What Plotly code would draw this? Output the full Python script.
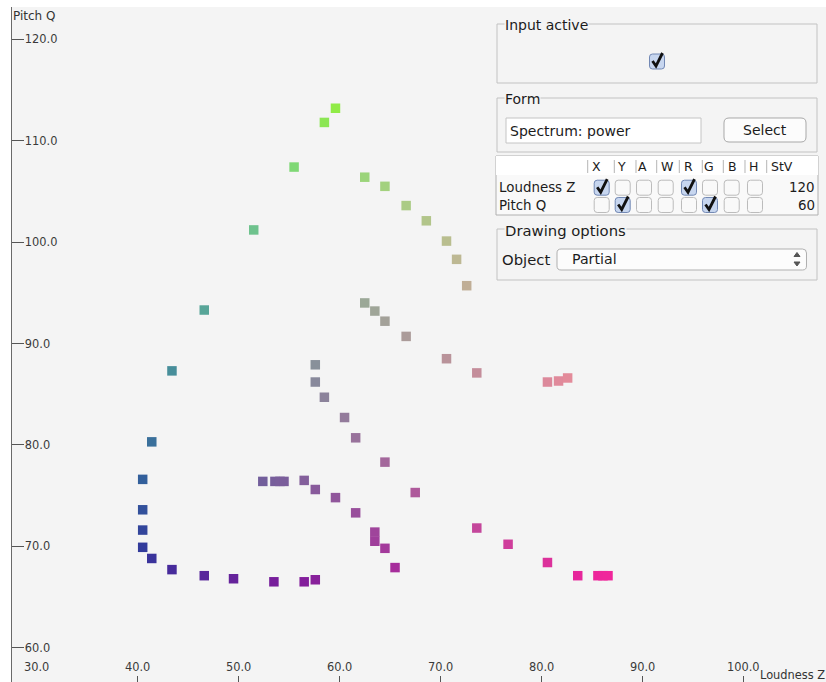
import plotly.graph_objects as go

# ---------------------------------------------------------------------------
# Partials: loudness (Z) against pitch (Q)
# ---------------------------------------------------------------------------
loudness_z = [
    # outer track
    59.6, 58.5, 55.5, 51.5, 46.6, 43.4, 41.4, 40.5, 40.5, 40.5, 40.5, 41.4,
    43.4, 46.6, 49.5, 53.5, 56.5, 57.6,
    # upper right track
    62.5, 64.5, 66.6, 68.6, 70.6, 71.6, 72.6,
    # middle track
    62.5, 63.5, 64.5, 66.6, 70.6, 73.6, 80.6, 81.7, 82.6,
    # long descending track
    57.6, 57.6, 58.5, 60.5, 61.6, 64.5, 67.5, 73.6, 76.7, 80.6, 83.6, 85.6,
    86.1, 86.6,
    # lower inner track
    52.4, 53.6, 54.1, 54.5, 56.5, 57.6, 59.6, 61.6, 63.5, 63.5, 64.5, 65.5,
]
pitch_q = [
    113.2, 111.8, 107.4, 101.2, 93.3, 87.3, 80.3, 76.6, 73.6, 71.6, 69.9, 68.8,
    67.7, 67.1, 66.8, 66.5, 66.5, 66.7,
    106.4, 105.5, 103.6, 102.1, 100.1, 98.3, 95.7,
    94.0, 93.2, 92.2, 90.7, 88.5, 87.1, 86.2, 86.3, 86.6,
    87.9, 86.2, 84.7, 82.7, 80.7, 78.3, 75.3, 71.8, 70.2, 68.4, 67.1, 67.1,
    67.1, 67.1,
    76.4, 76.4, 76.4, 76.4, 76.5, 75.6, 74.8, 73.3, 71.4, 70.5, 69.8, 67.9,
]

x_ticks = [30, 40, 50, 60, 70, 80, 90, 100]
y_ticks = [60, 70, 80, 90, 100, 110, 120]
x_title = "Loudness Z"
y_title = "Pitch Q"

# panel table contents
table_columns = ["X", "Y", "A", "W", "R", "G", "B", "H"]
table_rows = ["Loudness Z", "Pitch Q"]
table_stv = ["120", "60"]
table_checked = [["X", "R"], ["Y", "G"]]

# ---------------------------------------------------------------------------
# Figure geometry (pixels)
# ---------------------------------------------------------------------------
W, H = 826, 682
ML, MT = 12, 7
PW, PH = W - ML, H - MT
BG = "#f4f4f4"
TXT = "#1c1c1c"
FONT = "DejaVu Sans"


def fx(p):
    return (p - ML) / PW


def fy(p):
    return 1 - (p - MT) / PH


def partial_colour(z, q):
    # red follows loudness, green follows pitch
    zn = min(max((z - min(loudness_z)) / (max(loudness_z) - min(loudness_z)), 0), 1)
    qn = min(max((q - min(pitch_q)) / (max(pitch_q) - min(pitch_q)), 0), 1)
    r = 50 + 190 * zn ** 0.8
    g = 30 + 205 * qn ** 0.75
    b = 155 - 85 * qn ** 6
    return f"rgb({r:.0f},{g:.0f},{b:.0f})"


colours = [partial_colour(z, q) for z, q in zip(loudness_z, pitch_q)]

fig = go.Figure(
    go.Scatter(
        x=loudness_z,
        y=pitch_q,
        mode="markers",
        marker=dict(symbol="square", size=9.5, color=colours, line=dict(width=0)),
        hoverinfo="skip",
    )
)

shapes = []
annotations = []


def rect(x0, y0, x1, y1, line="#bdbdbd", fill=None, width=1):
    shapes.append(dict(
        type="rect", xref="paper", yref="paper",
        x0=fx(x0), x1=fx(x1), y0=fy(y0), y1=fy(y1),
        line=dict(color=line, width=width),
        fillcolor=fill if fill else "rgba(0,0,0,0)", layer="above",
    ))


def path(points, line="#000", width=1, fill=None, close=False):
    d = "M " + " L ".join(f"{fx(x):.5f},{fy(y):.5f}" for x, y in points)
    if close:
        d += " Z"
    shapes.append(dict(
        type="path", xref="paper", yref="paper", path=d,
        line=dict(color=line, width=width),
        fillcolor=fill if fill else "rgba(0,0,0,0)", layer="above",
    ))


def rrect(x0, y0, x1, y1, r, line="#aaaaaa", fill="#ffffff", width=1):
    def p(x, y):
        return f"{fx(x):.5f},{fy(y):.5f}"
    d = (f"M {p(x0 + r, y0)} L {p(x1 - r, y0)} Q {p(x1, y0)} {p(x1, y0 + r)} "
         f"L {p(x1, y1 - r)} Q {p(x1, y1)} {p(x1 - r, y1)} "
         f"L {p(x0 + r, y1)} Q {p(x0, y1)} {p(x0, y1 - r)} "
         f"L {p(x0, y0 + r)} Q {p(x0, y0)} {p(x0 + r, y0)} Z")
    shapes.append(dict(
        type="path", xref="paper", yref="paper", path=d,
        line=dict(color=line, width=width), fillcolor=fill, layer="above",
    ))


def text(x, y, s, size=14, anchor="left", bg=None, color=TXT):
    annotations.append(dict(
        x=fx(x), y=fy(y), xref="paper", yref="paper", text=s,
        showarrow=False, xanchor=anchor, yanchor="middle",
        font=dict(family=FONT, size=size, color=color),
        bgcolor=bg if bg else "rgba(0,0,0,0)", borderpad=0,
    ))


def checkbox(cx, cy, checked, w=15, h=15):
    if checked:
        rrect(cx - w / 2, cy - h / 2, cx + w / 2, cy + h / 2, 3,
              line="#7288b4", fill="#c7d6ef")
        path([(cx - 4.5, cy - 0.5), (cx - 1, cy + 4.5), (cx + 5.5, cy - 8.5)],
             line="#111111", width=2.8)
    else:
        rrect(cx - w / 2, cy - h / 2, cx + w / 2, cy + h / 2, 3,
              line="#bcbcbc", fill="#f9f9f9")


def group(x0, y0, x1, y1, title, size=14):
    rect(x0, y0, x1, y1, line="#c2c2c2")
    text(x0 + 7, y0 + 1, title, size=size, bg=BG)


# "Input active" group
group(497, 24, 817, 83, "Input active")
checkbox(657, 61.5, True)

# "Form" group
group(497, 98, 817, 152, "Form")
rect(506, 118, 701, 143, line="#c4c4c4", fill="#ffffff")
text(509, 131, "Spectrum: power")
rrect(724, 118, 806, 142, 5, line="#a8a8a8", fill="#fcfcfc")
text(765, 130, "Select", anchor="center")

# axis assignment table
rect(496, 156, 818, 215, line="#b0b0b0", fill="#f9f9f9")
rect(496, 156, 818, 175, line="rgba(0,0,0,0)", fill="#ffffff")
sep_x = [587.7, 614.3, 636, 656.7, 679.3, 702.3, 723.3, 745, 766.7]
head_x = [596, 621, 642.3, 666.7, 688.3, 709, 732.3, 753.3]
box_x = [601.7, 622.7, 644, 665.7, 689, 710, 731.7, 755]
for sx in sep_x:
    path([(sx, 160), (sx, 173)], line="#b5b5b5", width=1)
for hx, col in zip(head_x, table_columns):
    text(hx, 166.5, col, size=12.5, anchor="center")
text(770, 166.5, "StV", size=12.5)
row_y = [187.7, 205]
for ry, name, stv, checks in zip(row_y, table_rows, table_stv, table_checked):
    text(498, ry, name, size=13.4)
    text(816, ry, stv, size=13.4, anchor="right")
    for bx, col in zip(box_x, table_columns):
        checkbox(bx, ry, col in checks)

# "Drawing options" group
group(497, 229, 817, 280, "Drawing options", size=14.8)
text(501, 259.5, "Object", size=14.8)
rrect(557, 249, 806.5, 270, 4, line="#b0b0b0", fill="#fcfcfc")
text(571, 259.5, "Partial", size=14.2)
path([(794, 256.5), (797, 252.5), (800, 256.5)], line="#555", fill="#555", close=True)
path([(794, 262), (797, 266), (800, 262)], line="#555", fill="#555", close=True)

# axis titles
text(12, 16, y_title, size=12, color="#333")
text(759, 674.5, x_title, size=11.4, color="#333")

tick_font = dict(family=FONT, size=11.4, color="#3a3a3a")

# x tick labels sit just above the inward tick marks
for v in x_ticks:
    annotations.append(dict(
        x=v, y=fy(667), xref="x", yref="paper", text=f"{v:.1f}",
        showarrow=False, xanchor="center", yanchor="middle",
        font=tick_font, borderpad=0,
    ))

fig.update_layout(
    width=W,
    height=H,
    margin=dict(l=ML, r=0, t=MT, b=0, pad=0),
    paper_bgcolor="white",
    plot_bgcolor=BG,
    showlegend=False,
    xaxis=dict(
        range=[27.553, 108.196],
        tickvals=x_ticks,
        ticks="inside", ticklen=6, tickwidth=1, tickcolor="#555",
        showticklabels=False,
        showgrid=False, zeroline=False, showline=False,
        fixedrange=True,
    ),
    yaxis=dict(
        range=[56.617, 123.185],
        tickvals=y_ticks,
        ticktext=[f"{v:.1f}" for v in y_ticks],
        ticks="inside", ticklen=12, tickwidth=1, tickcolor="#555",
        ticklabelposition="inside",
        tickfont=tick_font,
        showgrid=False, zeroline=False,
        showline=True, linecolor="#6a6a6a", linewidth=1.3,
        fixedrange=True,
    ),
    shapes=shapes,
    annotations=annotations,
)

fig.write_html("out.html")
